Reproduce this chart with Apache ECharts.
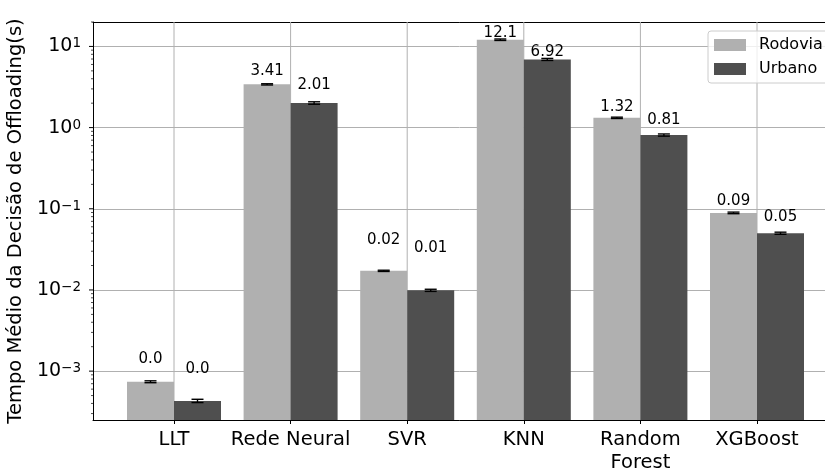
<!DOCTYPE html>
<html>
<head>
<meta charset="utf-8">
<script src="https://cdn.jsdelivr.net/npm/echarts@6/dist/echarts.min.js"></script>
<style>
  html, body { margin: 0; padding: 0; background: #fff; }
  #chart { width: 825px; height: 468px; }
</style>
</head>
<body>
<div id="chart"></div>
<script>
// Mean offloading-decision time per model, highway vs urban scenario
const categories = ['LLT', 'Rede Neural', 'SVR', 'KNN', 'Random\nForest', 'XGBoost'];
const rodovia    = [0.00074, 3.41, 0.0172, 12.1, 1.32, 0.089];
const urbano     = [0.00043, 2.01, 0.0099, 6.92, 0.81, 0.050];
const rodoviaErr = [0.00002, 0.06, 0.0003, 0.25, 0.025, 0.002];
const urbanoErr  = [0.00002, 0.07, 0.0003, 0.20, 0.025, 0.0015];
const seriesNames = ['Rodovia', 'Urbano'];

// Axis range and layout constants
const Y_MIN = 2.5e-4, Y_MAX = 20;
const X_MIN = -0.695, X_MAX = 5.695;
const BAR_W = 47;
const FONT = 'DejaVu Sans';
const COLORS = ['#b0b0b0', '#4f4f4f'];
// Height (in data units) added above each group's bars to place value labels
const labelLift = [0.0005, 0.9, 0.019, 0.65, 0.27, 0.02];

// Python-style rounding to two decimals: 0.0007 -> "0.0", 12.1 -> "12.1"
function fmtValue(v) {
  const r = Math.round(v * 100) / 100;
  let s = String(r);
  if (s.indexOf('.') < 0) s += '.0';
  return s;
}

function powLabel(v) {
  const e = Math.log10(v);
  if (Math.abs(e - Math.round(e)) > 1e-6) return '';
  const n = Math.round(e);
  return '{b|10}{s|' + (n < 0 ? '\u2212' + (-n) : n) + '}';
}

// major + minor log ticks inside the visible range
const tickData = [];
for (let k = -4; k <= 1; k++) {
  for (let m = 1; m <= 9; m++) {
    const v = m * Math.pow(10, k);
    if (v >= Y_MIN && v <= Y_MAX) tickData.push([0, v, m === 1 ? 1 : 0]);
  }
}

const errData = [];
categories.forEach((c, i) => {
  errData.push([i, rodovia[i], rodoviaErr[i], 0]);
  errData.push([i, urbano[i], urbanoErr[i], 1]);
});

const chart = echarts.init(document.getElementById('chart'));
const gridTop = 22, gridH = 398;
const bandW = 116.6;
const firstCenter = 174;
const spine = { show: true, onZero: false, lineStyle: { color: '#000', width: 1 } };

chart.setOption({
  animation: false,
  textStyle: { fontFamily: FONT },
  grid: [
    { left: 93, top: gridTop, width: 745, height: gridH,
      outerBoundsMode: 'none', containLabel: false },
    { left: firstCenter - bandW / 2, top: gridTop, width: bandW * 6, height: gridH,
      outerBoundsMode: 'none', containLabel: false }
  ],
  legend: {
    data: seriesNames,
    orient: 'vertical',
    left: 708, top: 31,
    icon: 'rect',
    itemWidth: 32, itemHeight: 12, itemGap: 8,
    padding: [6, 10, 6, 6],
    backgroundColor: 'rgba(255,255,255,0.8)',
    borderColor: '#cccccc', borderWidth: 1, borderRadius: 3,
    textStyle: { fontFamily: FONT, fontSize: 16, color: '#000', padding: [0, 0, 0, 8] }
  },
  xAxis: [
    { type: 'value', gridIndex: 0, min: X_MIN, max: X_MAX, position: 'bottom',
      axisLine: spine, axisTick: { show: false }, axisLabel: { show: false },
      splitLine: { show: false } },
    { type: 'category', gridIndex: 1, data: categories, boundaryGap: true,
      axisLine: { show: false },
      axisTick: { show: true, alignWithLabel: true, interval: 0, length: 4, lineStyle: { color: '#000' } },
      axisLabel: { interval: 0, fontFamily: FONT, fontSize: 19.5, color: '#000', margin: 8, lineHeight: 23 },
      splitLine: { show: false } },
    // top spine
    { type: 'value', gridIndex: 0, min: X_MIN, max: X_MAX, position: 'top',
      axisLine: spine, axisTick: { show: false }, axisLabel: { show: false },
      splitLine: { show: false } }
  ],
  yAxis: [
    { type: 'log', gridIndex: 0, logBase: 10, min: Y_MIN, max: Y_MAX,
      name: 'Tempo Médio da Decisão de Offloading(s)',
      nameLocation: 'middle', nameGap: 58,
      nameTextStyle: { fontFamily: FONT, fontSize: 19.5, color: '#000' },
      axisLine: spine,
      axisTick: { show: false },
      axisLabel: {
        formatter: powLabel, margin: 12, showMinLabel: false, showMaxLabel: false,
        rich: {
          b: { fontFamily: FONT, fontSize: 19, color: '#000' },
          s: { fontFamily: FONT, fontSize: 13.5, color: '#000', verticalAlign: 'top' }
        }
      },
      splitLine: { show: true, lineStyle: { color: '#b0b0b0', width: 1 } } },
    { type: 'log', gridIndex: 1, logBase: 10, min: Y_MIN, max: Y_MAX, startValue: Y_MIN,
      show: false, splitLine: { show: false } }
  ],
  series: [
    // vertical grid lines at category centres
    { type: 'custom', xAxisIndex: 1, yAxisIndex: 1, silent: true, z: 1,
      data: categories.map((c, i) => [i, Y_MIN]),
      renderItem: (params, api) => {
        const x = api.coord([api.value(0), Y_MIN])[0];
        const cs = params.coordSys;
        return { type: 'line', shape: { x1: x, y1: cs.y, x2: x, y2: cs.y + cs.height },
                 style: { stroke: '#b0b0b0', lineWidth: 1 } };
      } },
    { name: seriesNames[0], type: 'bar', xAxisIndex: 1, yAxisIndex: 1, data: rodovia,
      barWidth: BAR_W, barGap: '0%', itemStyle: { color: COLORS[0] }, z: 2 },
    { name: seriesNames[1], type: 'bar', xAxisIndex: 1, yAxisIndex: 1, data: urbano,
      barWidth: BAR_W, barGap: '0%', itemStyle: { color: COLORS[1] }, z: 2 },
    // error bars and value labels
    { type: 'custom', xAxisIndex: 1, yAxisIndex: 1, silent: true, z: 4,
      data: errData,
      renderItem: (params, api) => {
        const i = api.value(0), v = api.value(1), e = api.value(2), s = api.value(3);
        const shift = (s === 0 ? -1 : 1) * BAR_W / 2;
        const x = api.coord([i, v])[0] + shift;
        const yt = api.coord([i, v + e])[1];
        const yb = api.coord([i, v - e])[1];
        const cap = 6;
        const ly = api.coord([i, v + labelLift[i]])[1] + 3;
        const st = { stroke: '#000', lineWidth: 1.4 };
        return { type: 'group', children: [
          { type: 'line', shape: { x1: x, y1: yt, x2: x, y2: yb }, style: st },
          { type: 'line', shape: { x1: x - cap, y1: yt, x2: x + cap, y2: yt }, style: st },
          { type: 'line', shape: { x1: x - cap, y1: yb, x2: x + cap, y2: yb }, style: st },
          { type: 'text', x: x, y: ly, style: {
              text: fmtValue(v), fill: '#000', font: '15px "DejaVu Sans"',
              textAlign: 'center', textVerticalAlign: 'bottom' } }
        ] };
      } },
    // log-scale major and minor ticks on the left spine
    { type: 'custom', xAxisIndex: 0, yAxisIndex: 0, silent: true, z: 5,
      data: tickData,
      renderItem: (params, api) => {
        const y = api.coord([X_MIN, api.value(1)])[1];
        const x = params.coordSys.x;
        const len = api.value(2) ? 4 : 2;
        return { type: 'line', shape: { x1: x - len, y1: y, x2: x, y2: y },
                 style: { stroke: '#000', lineWidth: api.value(2) ? 1 : 0.7 } };
      } }
  ]
});
</script>
</body>
</html>
